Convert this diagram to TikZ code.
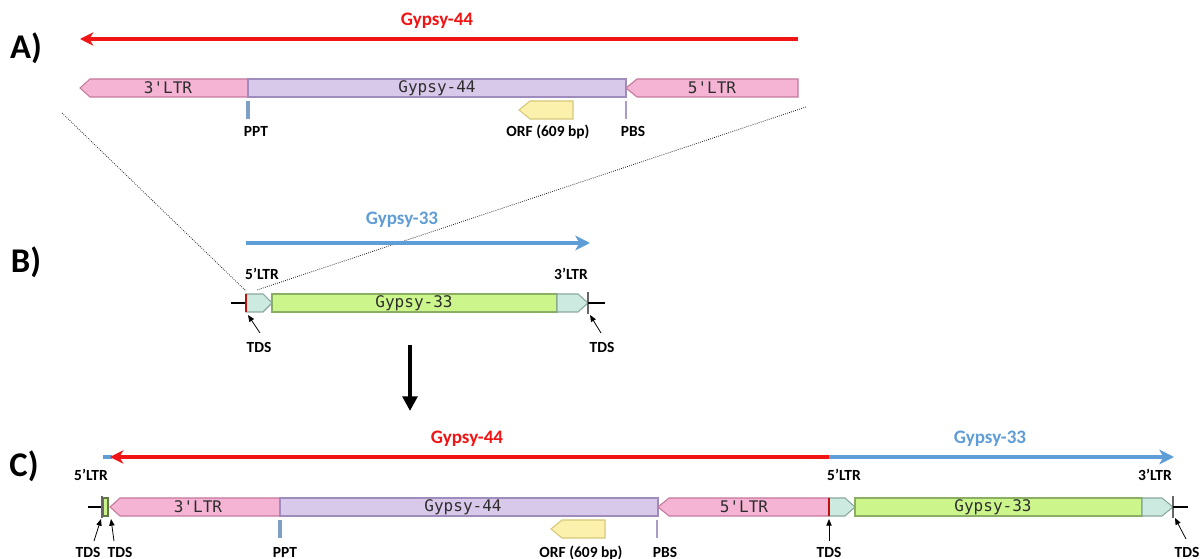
\documentclass[tikz,border=0pt]{standalone}
\usepackage{fontspec}
\setmainfont{Carlito}
\newfontfamily\monofnt{DejaVu Sans Mono}
\usetikzlibrary{arrows.meta}
\definecolor{pinkF}{RGB}{245,180,212}
\definecolor{pinkD}{RGB}{196,120,156}
\definecolor{purpF}{RGB}{216,200,234}
\definecolor{purpD}{RGB}{158,140,188}
\definecolor{tealF}{RGB}{204,234,224}
\definecolor{tealD}{RGB}{138,168,158}
\definecolor{grnF}{RGB}{204,246,140}
\definecolor{grnD}{RGB}{138,174,98}
\definecolor{yelF}{RGB}{252,241,172}
\definecolor{yelD}{RGB}{214,200,120}
\definecolor{redA}{RGB}{240,20,20}
\definecolor{blueA}{RGB}{95,157,215}
\definecolor{pptC}{RGB}{126,160,196}
\definecolor{pbsC}{RGB}{170,155,200}
\definecolor{txtG}{RGB}{45,45,45}
\tikzset{
  pinkseg/.style={fill=pinkF,draw=pinkD,line width=0.8pt},
  purpseg/.style={fill=purpF,draw=purpD,line width=0.8pt},
  tealseg/.style={fill=tealF,draw=tealD,line width=0.8pt},
  grnseg/.style={fill=grnF,draw=grnD,line width=0.8pt},
  orfseg/.style={fill=yelF,draw=yelD,line width=0.8pt},
  segtxt/.style={font=\monofnt\fontsize{12}{12}\selectfont,text=txtG,inner sep=0pt},
  lbl/.style={font=\bfseries\fontsize{11.6}{12}\selectfont,anchor=base,inner sep=0pt},
  ttl/.style={font=\bfseries\fontsize{14.3}{15}\selectfont,anchor=base,inner sep=0pt},
  panel/.style={font=\bfseries\fontsize{26}{27}\selectfont,inner sep=0pt},
  redarrow/.style={draw=redA,line width=2.3pt,-{Stealth[length=10pt,width=10pt,inset=3pt]}},
  bluearrow/.style={draw=blueA,line width=2.3pt,-{Stealth[length=11pt,width=11pt,inset=3pt]}},
  pptick/.style={draw=pptC,line width=2.4pt},
  pbtick/.style={draw=pbsC,line width=0.9pt},
  tdsarrow/.style={draw=black!70,line width=0.6pt,-{Triangle[length=5pt,width=4pt]},black},
  flank/.style={draw=black,line width=1.5pt},
  zoomline/.style={draw=black!85,line width=0.6pt,densely dotted},
}
\begin{document}
\begin{tikzpicture}[x=0.75pt,y=-0.75pt]
\useasboundingbox (0,0) rectangle (1200,559);

% ---------------- Panel A ----------------
\node[panel] (pA) at (26,48) {A)};
\coordinate (rA1) at (798,39);
\coordinate (rA0) at (80,39);
\draw[redarrow] (rA1) -- (rA0);
\node[ttl,text=redA] (tA) at (437,26) {Gypsy-44};

\draw[pinkseg] (80,88) -- (90,79) -- (248,79) -- (248,97) -- (90,97) -- cycle;
\node[segtxt] (a3ltr) at (168,88) {3'LTR};
\draw[purpseg] (248,79) rectangle (626,97);
\node[segtxt] (agyp) at (437,88) {Gypsy-44};
\draw[pinkseg] (626,88) -- (637,79) -- (798,79) -- (798,97) -- (637,97) -- cycle;
\node[segtxt] (a5ltr) at (712,88) {5'LTR};

\draw[pptick] (248,101) -- (248,119);
\node[lbl] (aPPT) at (256,137) {PPT};
\draw[orfseg] (519,110) -- (530,101) -- (573,101) -- (573,119) -- (530,119) -- cycle;
\node[lbl] (aORF) at (548,137) {ORF (609 bp)};
\draw[pbtick] (626,101) -- (626,119);
\node[lbl] (aPBS) at (633,137) {PBS};

% zoom lines
\coordinate (zL0) at (62,113);
\coordinate (zL1) at (246,291);
\coordinate (zR0) at (806,107);
\coordinate (zR1) at (257,290);
\draw[zoomline] (zL0) -- (zL1);
\draw[zoomline] (zR0) -- (zR1);

% ---------------- Panel B ----------------
\node[panel] (pB) at (26,262) {B)};
\coordinate (bB0) at (246,243);
\coordinate (bB1) at (590,243);
\draw[bluearrow] (bB0) -- (bB1);
\node[ttl,text=blueA] (tB) at (402,225) {Gypsy-33};
\node[lbl] (b5) at (262,280) {5’LTR};
\node[lbl] (b3) at (571,280) {3’LTR};

\draw[flank] (231,303) -- (246,303);
\draw[tealseg] (246,294) -- (263,294) -- (272,303) -- (263,312) -- (246,312) -- cycle;
\draw[draw=redA!80!black,line width=0.8pt] (246,294) -- (246,312);
\draw[grnseg] (272,294) rectangle (557,312);
\node[segtxt] (bgyp) at (414,303) {Gypsy-33};
\draw[tealseg] (557,294) -- (578,294) -- (588,303) -- (578,312) -- (557,312) -- cycle;
\draw[draw=black!60,line width=0.8pt] (588,292) -- (588,314);
\draw[flank] (588,303) -- (605,303);

\node[lbl] (bT1) at (259,353) {TDS};
\node[lbl] (bT2) at (602,353) {TDS};
\coordinate (bT1s) at (260,333);
\coordinate (bT1e) at (248,315);
\coordinate (bT2s) at (601,333);
\coordinate (bT2e) at (590,315);
\draw[tdsarrow] (bT1s) -- (bT1e);
\draw[tdsarrow] (bT2s) -- (bT2e);

\coordinate (dn0) at (410,345);
\coordinate (dn1) at (410,411);
\draw[line width=3.6pt,-{Triangle[length=11pt,width=11pt]}] (dn0) -- (dn1);

% ---------------- Panel C ----------------
\node[panel] (pC) at (24,466) {C)};
\coordinate (cR1) at (829,457);
\coordinate (cR0) at (110,457);
\coordinate (cBl) at (103,457);
\coordinate (cB1) at (1174,457);
\draw[draw=blueA,line width=2.3pt] (cBl) -- (112,457);
\draw[redarrow] (cR1) -- (cR0);
\draw[bluearrow] (cR1) -- (cB1);
\node[ttl,text=redA] (tC1) at (467,444) {Gypsy-44};
\node[ttl,text=blueA] (tC2) at (990,444) {Gypsy-33};
\node[lbl] (c5a) at (91,481) {5’LTR};
\node[lbl] (c5b) at (844,481) {5’LTR};
\node[lbl] (c3) at (1155,481) {3’LTR};

\draw[flank] (88,507) -- (102,507);
\draw[draw=black!60,line width=0.8pt] (102,496) -- (102,518);
\draw[fill=grnF,draw=grnD!70!black,line width=0.8pt] (103.5,498) rectangle (108,516);
\draw[pinkseg] (110,507) -- (120,498) -- (280,498) -- (280,516) -- (120,516) -- cycle;
\node[segtxt] (c3ltr) at (198,507) {3'LTR};
\draw[purpseg] (280,498) rectangle (658,516);
\node[segtxt] (cgyp44) at (463,507) {Gypsy-44};
\draw[pinkseg] (658,507) -- (669,498) -- (829,498) -- (829,516) -- (669,516) -- cycle;
\node[segtxt] (c5ltr) at (744,507) {5'LTR};
\draw[tealseg] (829,498) -- (845,498) -- (855,507) -- (845,516) -- (829,516) -- cycle;
\draw[draw=redA!80!black,line width=0.8pt] (829,498) -- (829,516);
\draw[grnseg] (855,498) rectangle (1142,516);
\node[segtxt] (cgyp33) at (993,507) {Gypsy-33};
\draw[tealseg] (1142,498) -- (1162,498) -- (1173,507) -- (1162,516) -- (1142,516) -- cycle;
\draw[draw=black!60,line width=0.8pt] (1173,496) -- (1173,518);
\draw[flank] (1173,507) -- (1188,507);

\draw[pptick] (280,520) -- (280,538);
\node[lbl] (cPPT) at (285,557) {PPT};
\draw[orfseg] (551,529) -- (562,520) -- (605,520) -- (605,538) -- (562,538) -- cycle;
\node[lbl] (cORF) at (581,557) {ORF (609 bp)};
\draw[pbtick] (657,520) -- (657,538);
\node[lbl] (cPBS) at (665,557) {PBS};

\node[lbl] (cT1) at (88,557) {TDS};
\node[lbl] (cT2) at (120,557) {TDS};
\node[lbl] (cT3) at (829,557) {TDS};
\node[lbl] (cT4) at (1187,557) {TDS};
\coordinate (cT1s) at (94,541);
\coordinate (cT1e) at (101,519);
\coordinate (cT2s) at (114,541);
\coordinate (cT2e) at (111,519);
\coordinate (cT3s) at (829,541);
\coordinate (cT3e) at (829,519);
\coordinate (cT4s) at (1186,539);
\coordinate (cT4e) at (1175,518);
\draw[tdsarrow] (cT1s) -- (cT1e);
\draw[tdsarrow] (cT2s) -- (cT2e);
\draw[tdsarrow] (cT3s) -- (cT3e);
\draw[tdsarrow] (cT4s) -- (cT4e);
\end{tikzpicture}
\end{document}
